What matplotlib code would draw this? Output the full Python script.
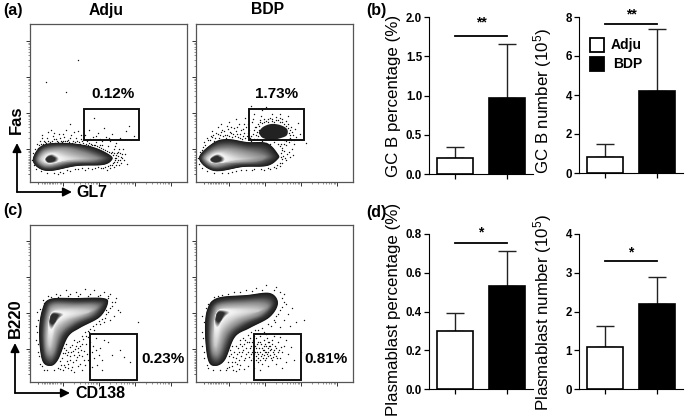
import matplotlib
matplotlib.use('Agg')
import matplotlib.pyplot as plt
from matplotlib.patches import Polygon, Rectangle
import numpy as np

plt.rcParams['font.family'] = ['Liberation Sans', 'DejaVu Sans']
plt.rcParams['mathtext.default'] = 'regular'

W, H = 685, 420

# bar values
groups = ['Adju', 'BDP']
gc_pct = [0.21, 0.97]
gc_pct_top = [0.34, 1.65]
gc_num = [0.82, 4.2]
gc_num_top = [1.48, 7.4]
pb_pct = [0.30, 0.53]
pb_pct_top = [0.39, 0.71]
pb_num = [1.08, 2.2]
pb_num_top = [1.63, 2.88]

# flow plot density contours, outer to inner, in pixels from the panel corner
a_left_levels = [
    [(3,24),(13,37),(37,39),(63,35),(80,27),(82,22),(73,17),(47,16),(20,11),(7,15)],
    [(5,24),(14,35),(37,37),(60,33),(76,26),(78,23),(70,19),(45,18),(20,13),(9,16)],
    [(8,24),(16,32),(35,34),(52,30),(66,25),(67,23),(57,21),(38,20),(20,16),(11,18)],
    [(11,24),(17,29),(27,30),(37,27),(47,24),(47,23),(37,22),(28,20),(20,18),(13,20)],
    [(15,23),(18,27),(23,28),(27,26),(29,24),(29,22),(27,20),(23,19),(19,19),(16,20)],
    [(16,23),(18,25),(21,26),(23,25),(25,24),(25,22),(24,21),(21,20),(18,20),(17,21)],
]
a_right_levels = [
    [(3,24),(17,39),(31,43),(51,40),(71,39),(82,28),(82,23),(71,16),(47,15),(18,11)],
    [(5,24),(18,37),(33,40),(51,37),(69,35),(78,27),(77,23),(67,18),(45,17),(18,13)],
    [(8,24),(18,32),(33,34),(50,31),(62,28),(69,25),(62,21),(50,20),(35,19),(18,16)],
    [(11,24),(18,29),(27,30),(37,27),(45,24),(48,23),(40,22),(30,20),(22,19),(14,20)],
    [(14,23),(18,27),(23,28),(27,26),(29,24),(29,22),(27,20),(23,19),(19,19),(15,20)],
    [(15,23),(18,25),(21,26),(23,25),(25,24),(25,22),(24,21),(21,20),(18,20),(16,21)],
]
gc_blob = [(63,50),(67,55),(75,58),(84,57),(91,53),(91,47),(85,44),(75,42),(67,44),(64,47)]
c_left_levels = [
    [(20,16),(12,22),(9,49),(12,72),(20,83),(47,84),(73,84),(78,79),(70,65),(50,54),(38,45),(28,22)],
    [(20,19),(14,26),(12,49),(15,71),(22,81),(47,81),(69,81),(74,78),(66,66),(47,57),(34,46),(26,25)],
    [(20,27),(16,32),(15,49),(18,69),(24,77),(45,77),(62,77),(67,74),(59,67),(43,60),(30,49),(24,31)],
    [(20,36),(18,40),(18,52),(20,66),(25,72),(40,73),(55,72),(59,70),(50,67),(36,62),(26,54),(22,41)],
    [(21,52),(19,55),(19,60),(20,66),(23,70),(28,70),(33,69),(34,67),(31,65),(28,62),(25,58),(23,54)],
    [(22,58),(20,60),(20,62),(21,66),(23,68),(26,68),(28,67),(28,66),(27,64),(26,62),(25,60),(23,58)],
]
c_right_levels = [
    [(19,16),(12,22),(9,49),(11,72),(21,84),(51,87),(74,89),(82,79),(74,65),(54,54),(39,45),(29,22)],
    [(20,19),(14,26),(12,49),(14,71),(23,81),(50,84),(72,85),(78,78),(69,66),(50,57),(36,46),(27,25)],
    [(20,27),(16,32),(15,49),(18,69),(24,77),(47,79),(66,79),(72,75),(63,67),(45,60),(31,49),(24,31)],
    [(20,36),(18,40),(18,52),(20,67),(25,73),(42,74),(58,73),(63,71),(52,68),(38,63),(27,54),(22,41)],
    [(21,54),(19,57),(19,62),(20,68),(23,72),(28,72),(33,71),(34,69),(31,67),(28,64),(25,60),(23,56)],
    [(22,60),(20,62),(20,64),(21,68),(23,70),(26,70),(28,69),(28,68),(27,66),(26,64),(25,62),(23,60)],
]
level_greys = [0.1, 0.22, 0.55, 0.8, 0.97, 0.18]

# single events outside the contours
a_left_dots = [(8,34),(11,38),(14,41),(17,44),(12,44),(20,40),(23,46),(26,43),(29,48),(31,41),(34,45),(36,52),
    (38,42),(41,47),(43,41),(46,44),(48,51),(51,43),(53,39),(55,47),(57,41),(59,52),(61,38),(63,45),(66,40),
    (68,49),(70,43),(72,37),(74,54),(76,45),(78,36),(80,41),(82,48),(84,33),(86,39),(88,30),(90,44),(91,25),
    (93,33),(95,28),(85,24),(87,20),(89,17),(84,15),(80,14),(77,12),(73,14),(90,22),(94,22),(97,18),(62,13),
    (55,12),(48,13),(40,11),(33,9),(28,8),(15,40),(25,39),(33,41),(44,38),(58,37),(70,37),(82,30),(86,27),
    (88,26),(83,19),(92,28),(64,64),(36,90),(16,100),(48,122),(65,37),(99,56),(104,46),(96,51),(40,58),(21,52),
    (9,37),(10,41),(13,38),(16,39),(18,41),(19,38),(22,41),(24,43),(27,41),(28,40),(30,44),(32,40),(35,41),
    (37,41),(39,40),(40,44),(42,39),(45,40),(47,41),(49,40),(50,38),(52,41),(54,37),(56,38),(59,39),(60,36),
    (62,37),(64,37),(67,36),(69,35),(71,34),(73,33),(75,32),(77,31),(79,30),(81,29),(83,27),(84,29),(85,22),
    (86,24),(84,20),(82,17),(80,17),(78,16),(75,15),(71,14),(68,15),(65,14),(87,29),(89,33),(90,29),(92,24),
    (88,22),(91,19),(86,17),(58,14),(52,14),(45,13),(37,12),(30,10),(24,9),(17,9),(11,11),(6,13),(4,17),(2,22),
    (3,29),(5,33),(7,38),(12,47),(18,50),(24,49),(33,48),(44,50),(51,47),(60,43),(66,46),(72,41),(79,44),(85,36)]
a_right_dots = [(6,32),(9,37),(12,42),(15,46),(18,41),(20,49),(23,44),(26,52),(29,47),(31,56),(34,50),(36,45),
    (38,54),(41,48),(43,58),(45,52),(47,46),(50,55),(52,49),(54,44),(56,60),(58,52),(60,47),(62,58),(61,43),
    (64,62),(66,41),(68,60),(70,39),(72,63),(74,38),(76,61),(78,40),(80,62),(82,38),(84,64),(86,60),(88,42),
    (90,61),(92,58),(94,44),(95,55),(96,50),(97,47),(93,40),(90,37),(86,34),(88,31),(91,28),(94,25),(90,22),
    (86,19),(84,16),(80,14),(74,13),(68,12),(58,13),(50,12),(40,11),(32,9),(99,53),(100,45),(102,59),(98,38),
    (25,58),(33,60),(40,63),(49,64),(58,68),(66,72),(76,68),(84,68),(92,66),(16,51),(22,55),(37,42),(44,44),
    (55,41),(58,39),(63,52),(60,55),(65,66),(72,50),(86,48),(94,52),(98,42),(35,55),(48,58),(30,44),(96,33),
    (93,30),(87,26),(89,24),(97,27),(104,48),(110,39),(70,75),(55,76),
    (8,40),(11,44),(14,42),(17,47),(19,44),(22,48),(24,47),(27,46),(28,51),(31,47),(33,46),(35,49),(37,48),
    (39,46),(40,51),(42,45),(44,48),(46,43),(48,49),(49,44),(51,46),(53,52),(55,46),(57,48),(58,43),(59,55),
    (61,50),(62,46),(63,56),(64,60),(66,59),(68,63),(70,61),(72,60),(74,64),(76,63),(78,60),(80,65),(82,62),
    (84,60),(86,63),(88,58),(90,56),(92,54),(93,49),(94,47),(93,43),(90,41),(88,38),(85,38),(84,36),(86,32),
    (85,29),(85,25),(86,23),(84,19),(81,17),(78,15),(72,14),(65,13),(56,12),(45,12),(36,10),(26,9),(18,9),
    (11,11),(6,14),(3,18),(2,24),(4,30),(7,35),(16,45),(25,50),(32,53),(41,55),(47,53),(52,58),(57,63),(95,42)]
c_left_dots = [(34,17),(37,21),(40,26),(43,31),(46,36),(49,41),(52,46),(55,50),(58,45),(35,29),(40,35),(44,42),
    (50,36),(54,31),(47,25),(43,20),(38,14),(33,12),(28,14),(30,21),(36,38),(60,40),(63,36),(66,32),(69,27),
    (72,22),(64,24),(67,17),(72,12),(62,15),(66,44),(74,42),(78,40),(82,27),(90,32),(64,52),(70,58),(74,60),
    (80,62),(76,68),(84,66),(88,72),(82,76),(86,84),(80,88),(74,90),(64,92),(55,93),(46,90),(36,92),(26,88),
    (18,86),(13,82),(7,70),(6,56),(6,42),(8,30),(10,18),(14,12),(50,88),(60,88),(70,87),(30,87),(40,88),(76,72),
    (72,76),(78,84),(85,80),(90,70),(108,60),(70,34),(62,30),(58,22),(55,17),(52,12),(48,16),(44,10),(59,50),
    (56,38),(52,26),(48,30),(42,15),(38,30),(100,20),(94,25),
    (31,17),(32,24),(33,29),(34,34),(36,32),(37,27),(38,18),(40,22),(41,30),(42,37),(44,27),(45,33),(46,22),
    (47,40),(48,34),(49,27),(50,18),(51,32),(52,38),(53,43),(54,22),(56,46),(57,28),(58,51),(60,53),(63,56),
    (66,58),(69,61),(72,63),(75,64),(78,70),(80,74),(82,80),(78,86),(68,86),(58,86),(48,86),(38,86),(28,85),
    (21,85),(14,79),(10,73),(8,62),(7,50),(8,38),(9,26),(12,16),(17,12),(24,12),(30,13),(35,15),(41,12)]
c_right_dots = [(33,15),(36,20),(40,24),(43,30),(46,36),(49,42),(52,47),(35,28),(40,36),(44,42),(37,12),(44,17),
    (48,22),(50,28),(54,34),(56,40),(58,46),(47,32),(41,18),(52,16),(55,22),(58,28),(60,34),(62,40),(64,46),
    (62,20),(65,26),(67,32),(69,38),(71,44),(66,18),(70,24),(72,30),(74,36),(76,42),(78,46),(72,16),(76,22),
    (78,28),(80,34),(82,40),(84,45),(80,18),(84,24),(86,30),(88,36),(90,42),(86,14),(90,20),(92,28),(95,35),
    (98,22),(64,12),(58,14),(68,36),(64,30),(70,30),(74,27),(60,26),(62,24),(66,34),(68,27),(72,34),(78,32),
    (61,30),(59,36),(57,32),(55,28),(53,40),(75,33),(77,25),(73,40),(69,22),(82,30),(85,35),(80,26),(84,55),
    (88,62),(92,68),(96,74),(90,78),(86,84),(84,90),(80,95),(70,97),(60,94),(50,92),(38,90),(26,87),(18,85),
    (12,78),(6,66),(6,50),(6,36),(8,24),(12,14),(108,62),(100,60),(94,56),(80,66),(84,72),(88,88),(105,30),
    (48,13),(40,11),(30,12),(79,60),(75,56),(68,50),(62,52),(50,54),
    (32,20),(33,26),(34,32),(36,36),(37,25),(38,30),(39,20),(41,28),(42,34),(43,22),(44,38),(45,26),(46,30),
    (47,44),(48,38),(49,24),(50,34),(51,40),(52,30),(53,25),(54,44),(55,36),(56,30),(57,24),(57,42),(59,30),
    (60,22),(61,38),(62,28),(63,34),(64,22),(65,38),(66,28),(67,24),(68,42),(69,30),(70,36),(71,28),(72,26),
    (73,36),(74,32),(75,24),(76,38),(77,30),(79,36),(81,24),(83,32),(60,44),(64,40),(68,32),(72,40),(70,48),
    (55,50),(59,52),(66,54),(72,58),(78,62),(82,68),(86,75),(88,80),(78,92),(66,92),(56,91),(44,90),(32,88),
    (22,86),(15,80),(10,74),(8,60),(7,44),(8,30),(11,17),(17,12),(24,12),(31,14),(36,16),(43,13)]

# tick positions on the flow axes, panel pixels
flow_decades = [33, 69, 105, 141]
flow_minors = [2, 3, 4, 5, 6, 7, 8, 9]


def px(x, y):
    return x / W, 1 - y / H


def axes_px(left, top, right, bottom):
    return fig.add_axes([left / W, 1 - bottom / H, (right - left) / W, (bottom - top) / H])


def smooth(points, steps=8):
    # closed catmull-rom curve through the contour points
    pts = np.array(points, dtype=float)
    out = []
    for i in range(len(pts)):
        p0, p1, p2, p3 = pts[i - 1], pts[i], pts[(i + 1) % len(pts)], pts[(i + 2) % len(pts)]
        for t in np.linspace(0, 1, steps, endpoint=False):
            out.append(0.5 * (2 * p1 + (p2 - p0) * t + (2 * p0 - 5 * p1 + 4 * p2 - p3) * t ** 2
                              + (3 * p1 - p0 - 3 * p2 + p3) * t ** 3))
    return np.array(out)


def draw_levels(ax, levels):
    for i in range(len(levels) - 1):
        a = smooth(levels[i])
        b = smooth(levels[i + 1])
        for t in np.linspace(0, 1, 8, endpoint=False):
            grey = level_greys[i] + t * (level_greys[i + 1] - level_greys[i])
            ax.add_patch(Polygon(a + t * (b - a), closed=True, fc=str(grey), ec='none', zorder=3))
    ax.add_patch(Polygon(smooth(levels[-1]), closed=True, fc=str(level_greys[-1]), ec='none', zorder=3))


def flow_panel(left, top, bottom, levels, dots, gate, label, label_xy):
    ax = axes_px(left, top, left + 157, bottom)
    ax.set_xlim(0, 157)
    ax.set_ylim(0, bottom - top)
    xy = np.array(dots)
    ax.scatter(xy[:, 0], xy[:, 1], s=1.0, c='#111111', linewidths=0, zorder=2)
    draw_levels(ax, levels)
    ax.add_patch(Rectangle((gate[0], gate[1]), gate[2] - gate[0], gate[3] - gate[1],
                           fc='none', ec='#111111', lw=1.4, zorder=5))
    for s in ax.spines.values():
        s.set_color('#555555')
        s.set_linewidth(0.9)
    minors = []
    for d in flow_decades:
        minors += [d - 36 + 36 * np.log10(m) for m in flow_minors]
    minors += [8, 12, 15, 17, 20, 23]
    ax.set_xticks(flow_decades)
    ax.set_yticks(flow_decades)
    ax.set_xticks(minors, minor=True)
    ax.set_yticks(minors, minor=True)
    ax.set_xticklabels([])
    ax.set_yticklabels([])
    ax.tick_params(which='major', length=3, width=0.7, color='#333333', top=False, right=False)
    ax.tick_params(which='minor', length=1.5, width=0.4, color='#444444', top=False, right=False)
    fig.text(*px(*label_xy), label, fontsize=11, fontweight='bold', ha='center', va='center')
    return ax


def bar_panel(left, top, bottom, vals, tops, ylim, yticks, fmt, ylabel, label_y, sig_y, star, star_y):
    ax = axes_px(left, top, left + 104, bottom)
    x = np.arange(len(groups))
    ax.bar(x, vals, width=0.68, color=['white', 'black'], edgecolor='black', linewidth=1.2, zorder=3)
    upper = np.array(tops) - np.array(vals)
    ax.errorbar(x, vals, yerr=[np.zeros(2), upper], fmt='none', ecolor='#222222',
                elinewidth=1.0, capsize=6.7, capthick=1.0, zorder=2)
    ax.set_xlim(-0.5, 1.5)
    ax.set_ylim(*ylim)
    ax.set_xticks(x)
    ax.set_xticklabels([])
    ax.set_yticks(yticks)
    ax.set_yticklabels([fmt % v for v in yticks], fontsize=8.3, fontweight='bold')
    ax.tick_params(length=3.5, width=0.9, pad=1.5)
    ax.spines['top'].set_visible(False)
    ax.spines['right'].set_visible(False)
    ax.set_ylabel(ylabel, fontsize=12.2, va='center')
    ax.yaxis.set_label_coords(-0.346, label_y)
    ax.plot([0, 1], [sig_y, sig_y], color='black', lw=1.3, clip_on=False, zorder=4)
    ax.text(0.5, star_y, star, fontsize=10, fontweight='bold', ha='center', va='center')
    return ax


def arrow(x0, y0, x1, y1):
    fig.add_artist(matplotlib.patches.FancyArrowPatch(
        px(x0, y0), px(x1, y1), transform=fig.transFigure, arrowstyle='-|>',
        mutation_scale=13, lw=1.3, color='black', shrinkA=0, shrinkB=0))


fig = plt.figure(figsize=(W / 100, H / 100), dpi=100)

# flow plots
flow_panel(30, 24, 182, a_left_levels, a_left_dots, (54, 42, 109, 73), '0.12%', (113, 94))
ax = flow_panel(196, 24, 182, a_right_levels, a_right_dots, (53, 42, 108, 73), '1.73%', (277, 94))
ax.add_patch(Polygon(smooth(gc_blob), closed=True, fc='#222222', ec='none', zorder=3))
flow_panel(30, 225, 382, c_left_levels, c_left_dots, (60, 2, 107, 48), '0.23%', (163, 359))
flow_panel(196, 225, 382, c_right_levels, c_right_dots, (58, 2, 105, 48), '0.81%', (326, 359))

for label, x, y in [('Adju', 106, 10), ('BDP', 267, 10)]:
    fig.text(*px(x, y), label, fontsize=11.3, fontweight='bold', ha='center', va='center')

arrow(17, 192, 17, 143)
arrow(17, 192, 72, 192)
arrow(15, 393, 15, 343)
arrow(15, 393, 70, 393)
fig.text(*px(76, 193), 'GL7', fontsize=11.5, fontweight='bold', va='center')
fig.text(*px(16, 120), 'Fas', fontsize=12, fontweight='bold', rotation=90, ha='center', va='center')
fig.text(*px(75, 394), 'CD138', fontsize=11.5, fontweight='bold', va='center')
fig.text(*px(15, 318), 'B220', fontsize=12, fontweight='bold', rotation=90, ha='center', va='center')

# bar plots
bar_panel(429, 17, 174, gc_pct, gc_pct_top, (0, 2), [0, 0.5, 1.0, 1.5, 2.0], '%.1f',
          'GC B percentage (%)', 0.5, 1.757, '**', 1.93)
bar_panel(579, 17, 173, gc_num, gc_num_top, (0, 8), [0, 2, 4, 6, 8], '%d',
          'GC B number (10$^{5}$)', 0.46, 7.64, '**', 8.15)
bar_panel(429, 234, 389, pb_pct, pb_pct_top, (0, 0.8), [0, 0.2, 0.4, 0.6, 0.8], '%.1f',
          'Plasmablast percentage (%)', 0.516, 0.754, '*', 0.81)
bar_panel(579, 234, 389, pb_num, pb_num_top, (0, 4), [0, 1, 2, 3, 4], '%d',
          'Plasmablast number (10$^{5}$)', 0.49, 3.30, '*', 3.52)

# legend of the GC B number panel
for (y, colour, label, tx) in [(38, 'white', groups[0], 611), (57, 'black', groups[1], 613)]:
    fig.add_artist(Rectangle(px(590, y + 14), 14 / W, 14 / H, transform=fig.transFigure,
                             fc=colour, ec='black', lw=1.3))
    fig.text(*px(tx, y + 7), label, fontsize=10, fontweight='bold', va='center')

for label, x, y in [('(a)', 3, 10), ('(b)', 366, 10), ('(c)', 3, 211), ('(d)', 366, 212)]:
    fig.text(*px(x, y), label, fontsize=11.5, fontweight='bold', va='center')

fig.savefig('out.png', dpi=100)
